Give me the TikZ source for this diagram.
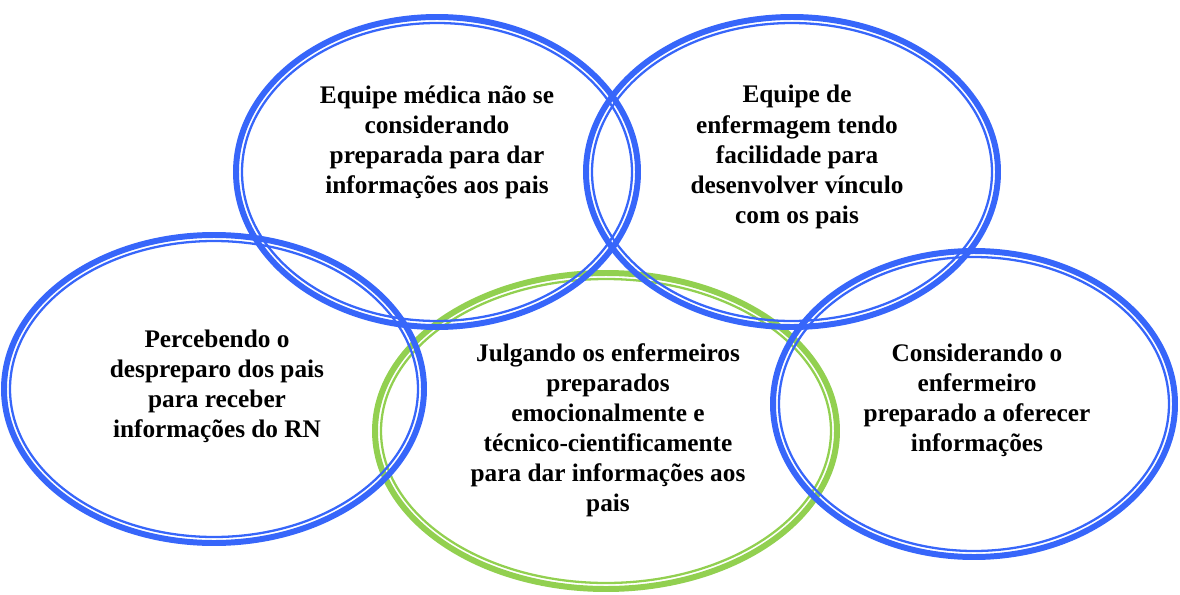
\documentclass[tikz,border=0pt]{standalone}
\usepackage{fontspec}
\setmainfont{Liberation Serif}
\usepackage{tikz}

\definecolor{anelazul}{RGB}{55,102,250}
\definecolor{anelverde}{RGB}{146,208,80}

\tikzset{
  rotulo/.style={align=center,font=\bfseries\fontsize{14.4}{17.1}\selectfont},
  grosso/.style={line width=3.4pt},
  fino/.style={line width=1.3pt}
}

% ring: outer thick line, white gap, thin inner line
\newcommand{\anel}[4]{%
  \draw[grosso,#4] (#1) ellipse [x radius=#2-3, y radius=#3-3];
  \draw[fino,#4] (#1) ellipse [x radius=#2-9, y radius=#3-9];
}

\begin{document}
\begin{tikzpicture}[x=0.02cm,y=-0.02cm]
  \useasboundingbox (0,0) rectangle (1180,595);
  \anel{606,431}{234}{161}{anelverde}
  \anel{437,172}{204}{158}{anelazul}
  \anel{792,172}{209}{158}{anelazul}
  \anel{214,389}{213}{157}{anelazul}
  \anel{974,404}{204}{156}{anelazul}

  \node[rotulo] (medica) at (437,142) {Equipe médica não se\\ considerando\\ preparada para dar\\ informações aos pais};
  \node[rotulo] (enfermagem) at (797,157) {Equipe de\\ enfermagem tendo\\ facilidade para\\ desenvolver vínculo\\ com os pais};
  \node[rotulo] (despreparo) at (217,386) {Percebendo o\\ despreparo dos pais\\ para receber\\ informações do RN};
  \node[rotulo] (julgando) at (608,430) {Julgando os enfermeiros\\ preparados\\ emocionalmente e\\ técnico-cientificamente\\ para dar informações aos\\ pais};
  \node[rotulo] (considerando) at (977,400) {Considerando o\\ enfermeiro\\ preparado a oferecer\\ informações};
\end{tikzpicture}
\end{document}
